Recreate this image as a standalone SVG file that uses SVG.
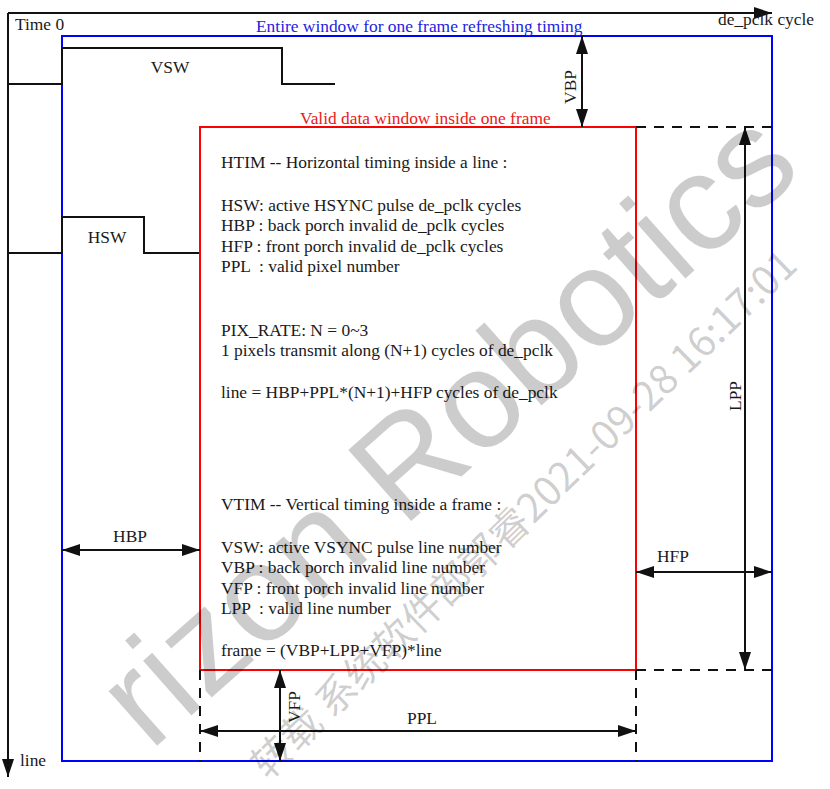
<svg xmlns="http://www.w3.org/2000/svg" width="830" height="789" viewBox="0 0 830 789">
<style>
.t{font-family:"Liberation Serif","Times New Roman",serif;font-size:17.4px;fill:#1a1a1a}
.c{text-anchor:middle}
.ln{fill:none;stroke:#111;stroke-width:2}
.ar{fill:none;stroke:#111;stroke-width:2;marker-start:url(#ah);marker-end:url(#ah)}
.ds{fill:none;stroke:#111;stroke-width:2;stroke-dasharray:10 8}
.wm{font-family:"Liberation Sans",Arial,sans-serif;fill:#000;fill-opacity:0.2}
.wm2{font-family:"Noto Sans CJK SC","Liberation Sans",sans-serif;fill:#000;fill-opacity:0.2}
</style>
<defs>
<marker id="ah" viewBox="0 0 18 12" refX="18" refY="6" markerWidth="18" markerHeight="12" markerUnits="userSpaceOnUse" orient="auto-start-reverse">
<path d="M0,0 L18,6 L0,12 z" fill="#111"/>
</marker>
<marker id="ae" viewBox="0 0 18 12" refX="18" refY="6" markerWidth="18" markerHeight="12" markerUnits="userSpaceOnUse" orient="auto">
<path d="M0,0 L18,6 L0,12 z" fill="#111"/>
</marker>
</defs>
<rect width="830" height="789" fill="#fff"/>

<g id="axes">
<path class="ln" d="M8,13 H772" marker-end="url(#ae)"/>
<path class="ln" d="M8,13 V777" marker-end="url(#ae)"/>
<text class="t" x="15" y="30">Time 0</text>
<text class="t" x="718" y="25">de_pclk cycle</text>
<text class="t" x="20" y="766">line</text>
</g>

<g id="entire-window">
<rect x="62" y="36" width="710" height="725" fill="none" stroke="#0000ff" stroke-width="2"/>
<text class="t" x="256" y="32" style="fill:#2323e0">Entire window for one frame refreshing timing</text>
</g>

<g id="vsw">
<path class="ln" d="M8,84 H62 V48 H282 V84 H335"/>
<text class="t c" x="170" y="73">VSW</text>
</g>

<g id="hsw">
<path class="ln" d="M8,253 H62 V217 H144 V253 H200"/>
<text class="t c" x="107" y="243">HSW</text>
</g>

<g id="valid-window">
<rect x="200" y="127" width="436" height="543" fill="none" stroke="#ff0000" stroke-width="2"/>
<text class="t" x="300" y="124" style="fill:#e82020">Valid data window inside one frame</text>
<text class="t" x="221" y="168">HTIM -- Horizontal timing inside a line :</text>
<text class="t" x="221" y="211">HSW: active HSYNC pulse de_pclk cycles</text>
<text class="t" x="221" y="231">HBP : back porch invalid de_pclk cycles</text>
<text class="t" x="221" y="252">HFP : front porch invalid de_pclk cycles</text>
<text class="t" x="221" y="272" xml:space="preserve">PPL  : valid pixel number</text>
<text class="t" x="221" y="336">PIX_RATE: N = 0~3</text>
<text class="t" x="221" y="356">1 pixels transmit along (N+1) cycles of de_pclk</text>
<text class="t" x="221" y="398">line = HBP+PPL*(N+1)+HFP cycles of de_pclk</text>
<text class="t" x="221" y="510">VTIM -- Vertical timing inside a frame :</text>
<text class="t" x="221" y="553">VSW: active VSYNC pulse line number</text>
<text class="t" x="221" y="573">VBP : back porch invalid line number</text>
<text class="t" x="221" y="594">VFP : front porch invalid line number</text>
<text class="t" x="221" y="614" xml:space="preserve">LPP  : valid line number</text>
<text class="t" x="221" y="656">frame = (VBP+LPP+VFP)*line</text>
</g>

<g id="connectors">
<path class="ds" d="M636,127 H772"/>
<path class="ds" d="M636,670 H772"/>
<path class="ds" d="M200,670 V761"/>
<path class="ds" d="M636,670 V761"/>
<path class="ar" d="M582,36 V127"/>
<path class="ar" d="M745,127 V670"/>
<path class="ar" d="M62,550 H200"/>
<path class="ar" d="M636,572 H772"/>
<path class="ar" d="M280,670 V761"/>
<path class="ar" d="M200,731 H636"/>
</g>

<g id="dimension-labels">
<text class="t c" transform="translate(576,87) rotate(-90)">VBP</text>
<rect x="727" y="378" width="16" height="36" fill="#fff"/>
<text class="t c" transform="translate(741,396) rotate(-90)">LPP</text>
<text class="t c" x="130" y="542">HBP</text>
<text class="t c" x="673" y="562">HFP</text>
<text class="t c" transform="translate(300,707) rotate(-90)">VFP</text>
<text class="t c" x="422" y="724">PPL</text>
</g>

<g id="watermark">
<text class="wm" font-size="138" transform="translate(150,752) rotate(-41.5)">rizon Robotics</text>
<text class="wm2" font-size="40" transform="translate(268,781) rotate(-44)">转载 系统软件部郭睿2021-09-28 16:17:01</text>
</g>
</svg>
